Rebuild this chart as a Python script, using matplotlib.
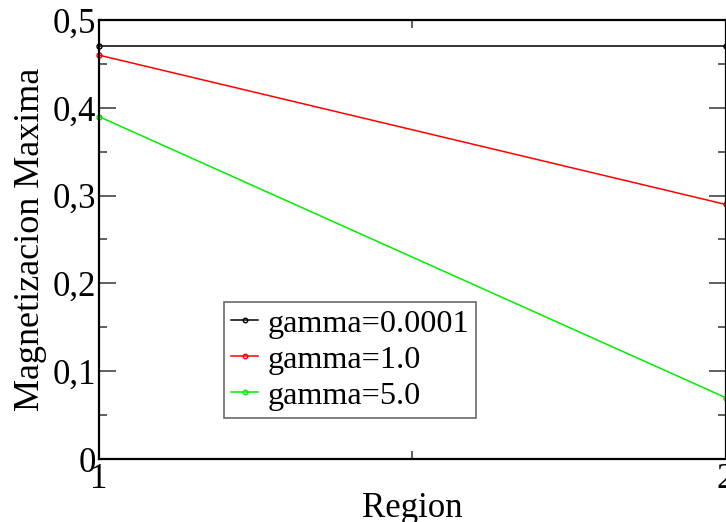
import matplotlib
matplotlib.use("Agg")
import matplotlib.pyplot as plt
from matplotlib.ticker import MultipleLocator, FuncFormatter

# data
regions = [1, 2]
gamma_labels = ["gamma=0.0001", "gamma=1.0", "gamma=5.0"]
mag_g0001 = [0.47, 0.47]
mag_g1 = [0.46, 0.29]
mag_g5 = [0.39, 0.07]
colors = ["black", "red", "#00ee00"]

plt.rcParams['font.family'] = ['Liberation Serif', 'DejaVu Serif']

fig = plt.figure(figsize=(7.26, 5.22), dpi=100)
ax = fig.add_axes([99 / 726, 1 - 459 / 522, 626.5 / 726, 439 / 522])

for vals, lab, c in zip([mag_g0001, mag_g1, mag_g5], gamma_labels, colors):
    ax.plot(regions, vals, color=c, lw=1.1, marker='o', ms=3.6,
            mfc='none', mec=c, mew=1.0, label=lab, clip_on=False)

ax.set_xlim(1, 2)
ax.set_ylim(0, 0.5)
ax.xaxis.set_major_locator(MultipleLocator(1))
ax.xaxis.set_minor_locator(MultipleLocator(0.5))
ax.yaxis.set_major_locator(MultipleLocator(0.1))
ax.yaxis.set_minor_locator(MultipleLocator(0.05))

def comma(v, pos):
    s = "%g" % round(v, 3)
    return s.replace(".", ",")

ax.yaxis.set_major_formatter(FuncFormatter(comma))
ax.xaxis.set_major_formatter(FuncFormatter(comma))

ax.tick_params(which='both', direction='in', top=True, right=True,
               labelsize=25, pad=2)
ax.tick_params(axis='x', pad=3)
ax.tick_params(which='major', length=12, width=1.2, color='#444444')
ax.tick_params(which='minor', length=6, width=1.2, color='#444444')
for sp in ax.spines.values():
    sp.set_linewidth(1.6)

ax.set_xlabel("Region", fontsize=25, labelpad=-3)
ax.set_ylabel("Magnetizacion Maxima", fontsize=26, labelpad=4)

leg = ax.legend(loc='upper left', bbox_to_anchor=(224 / 726, 1 - 302 / 522),
                bbox_transform=fig.transFigure, fontsize=23.2, frameon=True,
                fancybox=False, handlelength=0.85, handletextpad=0.28,
                borderpad=0.22, labelspacing=0.2, borderaxespad=0,
                markerscale=0.9)
leg.get_frame().set_edgecolor('#444444')
leg.get_frame().set_linewidth(1.2)

fig.savefig("out.png", dpi=100)
